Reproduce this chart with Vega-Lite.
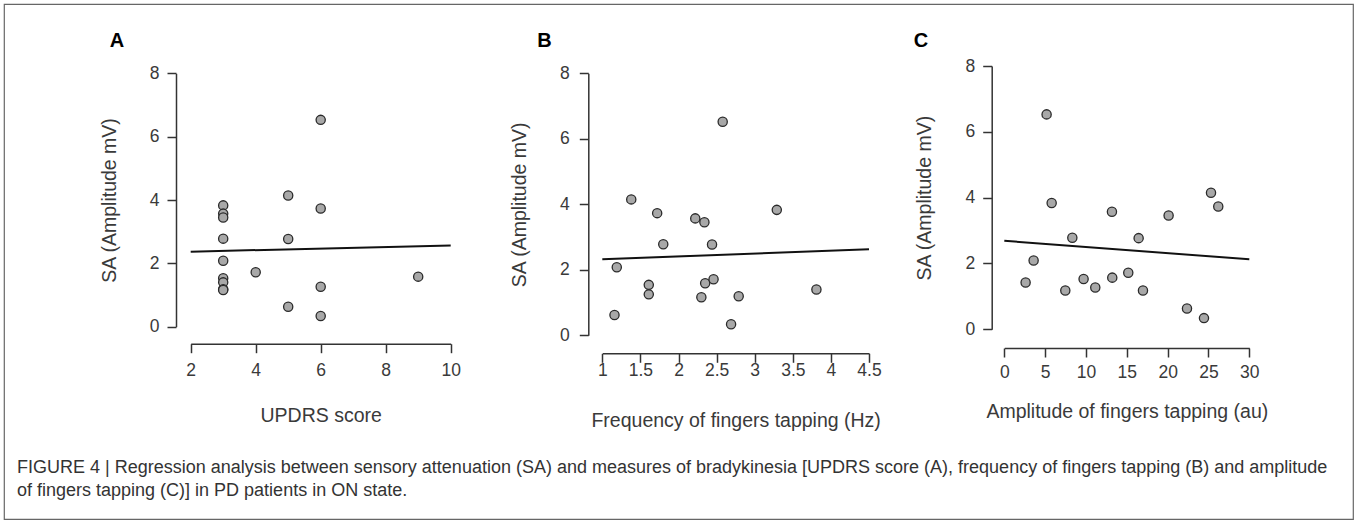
{
  "$schema": "https://vega.github.io/schema/vega-lite/v6.json",
  "width": 1349,
  "height": 515,
  "autosize": {"type": "none"},
  "padding": {"left": 4, "top": 4, "right": 6, "bottom": 4},
  "background": "white",
  "config": {
    "view": {"stroke": "#666666", "strokeWidth": 1.2},
    "font": "Liberation Sans",
    "axis": {
      "grid": false,
      "domainColor": "#333333",
      "domainWidth": 1.5,
      "tickColor": "#333333",
      "tickWidth": 1.5,
      "tickSize": 9,
      "labelFont": "Liberation Sans",
      "labelFontSize": 17.5,
      "labelColor": "#3a3a3a",
      "labelFlush": false,
      "labelOverlap": false,
      "titleFont": "Liberation Sans",
      "titleFontSize": 19.5,
      "titleFontWeight": "normal",
      "titleColor": "#3a3a3a"
    }
  },
  "title": {
    "text": [
      "FIGURE 4 | Regression analysis between sensory attenuation (SA) and measures of bradykinesia [UPDRS score (A), frequency of fingers tapping (B) and amplitude",
      "of fingers tapping (C)] in PD patients in ON state."
    ],
    "orient": "bottom",
    "anchor": "start",
    "frame": "group",
    "offset": -60,
    "dx": 13,
    "baseline": "top",
    "font": "Liberation Sans",
    "fontSize": 18,
    "fontWeight": "normal",
    "color": "#333333",
    "lineHeight": 23
  },
  "datasets": {
    "a": [
      {"updrs": 3, "sa": 3.83}, {"updrs": 3, "sa": 3.57}, {"updrs": 3, "sa": 3.45},
      {"updrs": 3, "sa": 2.78}, {"updrs": 3, "sa": 2.08}, {"updrs": 3, "sa": 1.53},
      {"updrs": 3, "sa": 1.40}, {"updrs": 3, "sa": 1.18}, {"updrs": 3, "sa": 1.16},
      {"updrs": 4, "sa": 1.72},
      {"updrs": 5, "sa": 4.14}, {"updrs": 5, "sa": 2.77}, {"updrs": 5, "sa": 0.63},
      {"updrs": 6, "sa": 6.53}, {"updrs": 6, "sa": 3.73}, {"updrs": 6, "sa": 1.26}, {"updrs": 6, "sa": 0.34},
      {"updrs": 9, "sa": 1.58}
    ],
    "b": [
      {"freq": 1.38, "sa": 4.15}, {"freq": 1.19, "sa": 2.08}, {"freq": 1.16, "sa": 0.62},
      {"freq": 1.72, "sa": 3.73}, {"freq": 1.80, "sa": 2.78}, {"freq": 1.61, "sa": 1.54},
      {"freq": 1.61, "sa": 1.25}, {"freq": 2.22, "sa": 3.57}, {"freq": 2.34, "sa": 3.45},
      {"freq": 2.44, "sa": 2.77}, {"freq": 2.35, "sa": 1.59}, {"freq": 2.30, "sa": 1.16},
      {"freq": 2.46, "sa": 1.71}, {"freq": 2.58, "sa": 6.52}, {"freq": 2.69, "sa": 0.34},
      {"freq": 2.79, "sa": 1.19}, {"freq": 3.29, "sa": 3.83}, {"freq": 3.81, "sa": 1.40}
    ],
    "c": [
      {"amp": 5.18, "sa": 6.53}, {"amp": 5.80, "sa": 3.84}, {"amp": 3.59, "sa": 2.09},
      {"amp": 2.61, "sa": 1.42}, {"amp": 8.33, "sa": 2.78}, {"amp": 7.47, "sa": 1.18},
      {"amp": 9.71, "sa": 1.53}, {"amp": 11.14, "sa": 1.27}, {"amp": 13.18, "sa": 3.57},
      {"amp": 13.22, "sa": 1.57}, {"amp": 15.18, "sa": 1.72}, {"amp": 16.45, "sa": 2.77},
      {"amp": 16.98, "sa": 1.18}, {"amp": 20.12, "sa": 3.46}, {"amp": 22.37, "sa": 0.63},
      {"amp": 24.45, "sa": 0.34}, {"amp": 25.31, "sa": 4.15}, {"amp": 26.20, "sa": 3.73}
    ]
  },
  "layer": [
    {
      "data": {"name": "a"},
      "layer": [
        {
          "mark": {"type": "circle", "fill": "#a8a8a8", "stroke": "#2a2a2a", "strokeWidth": 1.3, "size": 85, "opacity": 1},
          "encoding": {
            "x": {"field": "updrs", "type": "quantitative",
              "scale": {"domain": [2, 10], "range": [186.7, 446.7], "nice": false, "zero": false},
              "axis": {"orient": "bottom", "offset": -175.3, "values": [2, 4, 6, 8, 10], "format": "d", "title": "UPDRS score", "labelPadding": 9, "titlePadding": 27}},
            "y": {"field": "sa", "type": "quantitative",
              "scale": {"domain": [0, 8], "range": [322.7, 69.3], "nice": false, "zero": false},
              "axis": {"orient": "left", "offset": -172, "values": [0, 2, 4, 6, 8], "format": "d", "title": "SA (Amplitude mV)", "labelPadding": 8, "titlePadding": 30}}
          }
        },
        {
          "transform": [{"regression": "sa", "on": "updrs", "extent": [2, 10]}],
          "mark": {"type": "line", "color": "#111111", "strokeWidth": 2},
          "encoding": {
            "x": {"field": "updrs", "type": "quantitative",
              "scale": {"domain": [2, 10], "range": [186.7, 446.7], "nice": false, "zero": false}},
            "y": {"field": "sa", "type": "quantitative",
              "scale": {"domain": [0, 8], "range": [322.7, 69.3], "nice": false, "zero": false}}
          }
        },
        {
          "data": {"values": [{"label": "A"}]},
          "mark": {"type": "text", "fontWeight": "bold", "fontSize": 20, "color": "#000000", "align": "center", "baseline": "middle", "font": "Liberation Sans"},
          "encoding": {
            "text": {"field": "label"},
            "x": {"datum": -0.27,
              "scale": {"domain": [2, 10], "range": [186.7, 446.7], "nice": false, "zero": false}},
            "y": {"datum": 9.02,
              "scale": {"domain": [0, 8], "range": [322.7, 69.3], "nice": false, "zero": false}}
          }
        }
      ]
    },
    {
      "data": {"name": "b"},
      "layer": [
        {
          "mark": {"type": "circle", "fill": "#a8a8a8", "stroke": "#2a2a2a", "strokeWidth": 1.3, "size": 85, "opacity": 1},
          "encoding": {
            "x": {"field": "freq", "type": "quantitative",
              "scale": {"domain": [1, 4.5], "range": [598.3, 865], "nice": false, "zero": false},
              "axis": {"orient": "bottom", "offset": -165.7, "values": [1, 1.5, 2, 2.5, 3, 3.5, 4, 4.5], "format": "~g", "title": "Frequency of fingers tapping (Hz)", "labelPadding": -1, "titlePadding": 33}},
            "y": {"field": "sa", "type": "quantitative",
              "scale": {"domain": [0, 8], "range": [331.3, 69.3], "nice": false, "zero": false},
              "axis": {"orient": "left", "offset": -584.3, "values": [0, 2, 4, 6, 8], "format": "d", "title": "SA (Amplitude mV)", "labelPadding": 10, "titlePadding": 30}}
          }
        },
        {
          "transform": [{"regression": "sa", "on": "freq", "extent": [1, 4.5]}],
          "mark": {"type": "line", "color": "#111111", "strokeWidth": 2},
          "encoding": {
            "x": {"field": "freq", "type": "quantitative",
              "scale": {"domain": [1, 4.5], "range": [598.3, 865], "nice": false, "zero": false}},
            "y": {"field": "sa", "type": "quantitative",
              "scale": {"domain": [0, 8], "range": [331.3, 69.3], "nice": false, "zero": false}}
          }
        },
        {
          "data": {"values": [{"label": "B"}]},
          "mark": {"type": "text", "fontWeight": "bold", "fontSize": 20, "color": "#000000", "align": "center", "baseline": "middle", "font": "Liberation Sans"},
          "encoding": {
            "text": {"field": "label"},
            "x": {"datum": 0.24,
              "scale": {"domain": [1, 4.5], "range": [598.3, 865], "nice": false, "zero": false}},
            "y": {"datum": 8.99,
              "scale": {"domain": [0, 8], "range": [331.3, 69.3], "nice": false, "zero": false}}
          }
        }
      ]
    },
    {
      "data": {"name": "c"},
      "layer": [
        {
          "mark": {"type": "circle", "fill": "#a8a8a8", "stroke": "#2a2a2a", "strokeWidth": 1.3, "size": 85, "opacity": 1},
          "encoding": {
            "x": {"field": "amp", "type": "quantitative",
              "scale": {"domain": [0, 30], "range": [1000.3, 1245.3], "nice": false, "zero": false},
              "axis": {"orient": "bottom", "offset": -171, "values": [0, 5, 10, 15, 20, 25, 30], "format": "d", "title": "Amplitude of fingers tapping (au)", "labelPadding": 6, "titlePadding": 22}},
            "y": {"field": "sa", "type": "quantitative",
              "scale": {"domain": [0, 8], "range": [325.3, 62], "nice": false, "zero": false},
              "axis": {"orient": "left", "offset": -987.7, "values": [0, 2, 4, 6, 8], "format": "d", "title": "SA (Amplitude mV)", "labelPadding": 8, "titlePadding": 30}}
          }
        },
        {
          "transform": [{"regression": "sa", "on": "amp", "extent": [0, 30]}],
          "mark": {"type": "line", "color": "#111111", "strokeWidth": 2},
          "encoding": {
            "x": {"field": "amp", "type": "quantitative",
              "scale": {"domain": [0, 30], "range": [1000.3, 1245.3], "nice": false, "zero": false}},
            "y": {"field": "sa", "type": "quantitative",
              "scale": {"domain": [0, 8], "range": [325.3, 62], "nice": false, "zero": false}}
          }
        },
        {
          "data": {"values": [{"label": "C"}]},
          "mark": {"type": "text", "fontWeight": "bold", "fontSize": 20, "color": "#000000", "align": "center", "baseline": "middle", "font": "Liberation Sans"},
          "encoding": {
            "text": {"field": "label"},
            "x": {"datum": -10.2,
              "scale": {"domain": [0, 30], "range": [1000.3, 1245.3], "nice": false, "zero": false}},
            "y": {"datum": 8.76,
              "scale": {"domain": [0, 8], "range": [325.3, 62], "nice": false, "zero": false}}
          }
        }
      ]
    }
  ],
  "resolve": {
    "scale": {"x": "independent", "y": "independent"},
    "axis": {"x": "independent", "y": "independent"}
  }
}
